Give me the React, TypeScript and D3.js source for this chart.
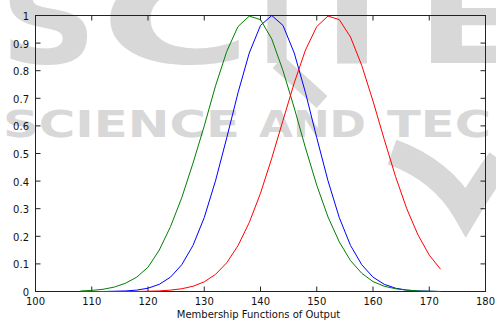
import React from "react";
import * as d3 from "d3";

// sample positions on the output axis
const xs = [108, 110, 112, 114, 116, 118, 120, 122, 124, 126, 128, 130, 132, 134, 136, 138, 140,
  142, 144, 146, 148, 150, 152, 154, 156, 158, 160, 162, 164, 166, 168, 170, 172];

// membership degree for each curve
const greenMF = [0.002, 0.004, 0.008, 0.016, 0.03, 0.052, 0.088, 0.15, 0.235, 0.34, 0.465, 0.6, 0.745,
  0.87, 0.96, 0.998, 0.985, 0.915, 0.8, 0.665, 0.52, 0.385, 0.27, 0.18, 0.112, 0.066, 0.036, 0.019,
  0.01, 0.005, 0.002, 0.001, 0.0];
const blueMF = [0.0, 0.0, 0.0, 0.001, 0.002, 0.005, 0.012, 0.026, 0.052, 0.097, 0.167, 0.268, 0.401,
  0.557, 0.72, 0.864, 0.964, 1.0, 0.964, 0.864, 0.72, 0.557, 0.401, 0.268, 0.167, 0.097, 0.052, 0.026,
  0.012, 0.005, 0.002, 0.001, 0.0];
const redMF = [0.0, 0.0, 0.0, 0.0, 0.0, 0.0, 0.001, 0.002, 0.005, 0.01, 0.019, 0.035, 0.062, 0.104,
  0.166, 0.25, 0.356, 0.483, 0.62, 0.756, 0.875, 0.96, 0.998, 0.985, 0.922, 0.819, 0.69, 0.551, 0.417,
  0.3, 0.205, 0.132, 0.081];

const xTicks = [100, 110, 120, 130, 140, 150, 160, 170, 180];
const yTicks = [0, 0.1, 0.2, 0.3, 0.4, 0.5, 0.6, 0.7, 0.8, 0.9, 1];

// watermark letters: [char, left, width]
const bigLetters: [string, number, number][] = [["S", 0, 97], ["C", 100, 152], ["I", 258, 38], ["T", 298, 108], ["E", 416, 112]];

const W = 496, H = 323;
const margin = {left: 35.5, right: 10.5, top: 15.5, bottom: 31.5};

export default function App() {
  const x = d3.scaleLinear().domain([100, 180]).range([margin.left, W - margin.right]);
  const y = d3.scaleLinear().domain([0, 1]).range([H - margin.bottom, margin.top]);

  const line = d3.line<number>()
    .x((_, i) => x(xs[i]))
    .y(d => y(d));

  const series = [
    {vals: blueMF, color: "#0000ff"},
    {vals: greenMF, color: "#008000"},
    {vals: redMF, color: "#ff0000"},
  ];

  const x0 = x(100), x1 = x(180), y0 = y(0), y1 = y(1);
  const tick = 5;
  const wm = "#d8d8d8";

  return (
    <svg width={W} height={H} style={{position: "absolute", left: 0, top: 0, background: "#fff"}}
         fontFamily="'DejaVu Sans', sans-serif">
      {/* watermark behind the plot */}
      <g fill={wm} fontWeight="bold">
        {bigLetters.map(([c, lx, lw]) => (
          <text key={c} x={lx} y={63} fontSize={122} textLength={lw} lengthAdjust="spacingAndGlyphs">{c}</text>
        ))}
        <text x={3} y={137} fontSize={37} textLength={237} lengthAdjust="spacingAndGlyphs">SCIENCE</text>
        <text x={259} y={137} fontSize={37} textLength={107} lengthAdjust="spacingAndGlyphs">AND</text>
        <text x={387} y={137} fontSize={37} textLength={104} lengthAdjust="spacingAndGlyphs">TEC</text>
      </g>
      <path d="M278,62 L322,102" fill="none" stroke={wm} strokeWidth={16}/>
      <path d="M392,152 Q442,170 466,212 Q484,182 500,160" fill="none" stroke={wm} strokeWidth={26}/>

      {/* box */}
      <rect x={x0} y={y1} width={x1 - x0} height={y0 - y1} fill="none" stroke="#222" strokeWidth={1}/>

      {/* x ticks */}
      {xTicks.map(t => (
        <g key={"x" + t}>
          <line x1={x(t)} x2={x(t)} y1={y0} y2={y0 - tick} stroke="#222"/>
          <line x1={x(t)} x2={x(t)} y1={y1} y2={y1 + tick} stroke="#222"/>
          <text x={x(t)} y={304.5} fontSize={10} textAnchor="middle" fill="#111">{t}</text>
        </g>
      ))}

      {/* y ticks */}
      {yTicks.map(t => (
        <g key={"y" + t}>
          <line x1={x0} x2={x0 + tick} y1={y(t)} y2={y(t)} stroke="#222"/>
          <line x1={x1} x2={x1 - tick} y1={y(t)} y2={y(t)} stroke="#222"/>
          <text x={29} y={y(t) + 4.5} fontSize={10} textAnchor="end" fill="#111">{String(t)}</text>
        </g>
      ))}

      {/* curves */}
      {series.map((s, i) => (
        <path key={i} d={line(s.vals) || ""} fill="none" stroke={s.color} strokeWidth={1}/>
      ))}

      <text x={(x0 + x1) / 2 - 2} y={317.5} fontSize={10} textAnchor="middle" fill="#111">
        Membership Functions of Output
      </text>
    </svg>
  );
}
